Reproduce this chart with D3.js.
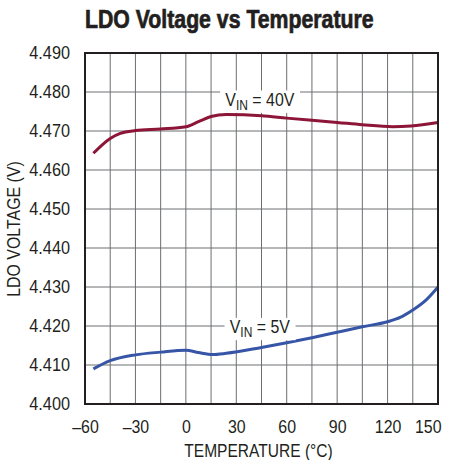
<!DOCTYPE html>
<html><head><meta charset="utf-8">
<script src="https://cdn.jsdelivr.net/npm/d3@7"></script>
<style>
body{margin:0;background:#fff;}
text{font-family:"Liberation Sans Narrow","Arial Narrow","Liberation Sans",sans-serif;fill:#231f20;}
</style></head><body>
<svg id="c" width="451" height="460"></svg>
<script>
const title = "LDO Voltage vs Temperature";
const xLabel = "TEMPERATURE (°C)";
const yLabel = "LDO VOLTAGE (V)";
const xTicks = [-60,-30,0,30,60,90,120,150];
const yTicks = [4.400,4.410,4.420,4.430,4.440,4.450,4.460,4.470,4.480,4.490];
const temps40 = [-55,-45,-39,-30,-15,0,7.5,15,24,45,60,90,105,123,134,150];
const vin40   = [4.4643,4.4681,4.4694,4.4701,4.4705,4.4711,4.4724,4.4737,4.4742,4.4739,4.4733,4.4722,4.4716,4.4711,4.4713,4.4722];
const temps5  = [-55,-45,-30,-15,0,7.5,16,24,45,60,75,90,105,120,127.5,135,143,150];
const vin5    = [4.4090,4.4111,4.4126,4.4133,4.4138,4.4132,4.4127,4.4130,4.4145,4.4157,4.4170,4.4184,4.4198,4.4211,4.4222,4.4241,4.4267,4.4300];
const series = [
  {name:"40V", t:temps40, v:vin40, color:"#8c1538", labelT:44, labelV:4.4783},
  {name:"5V", t:temps5, v:vin5, color:"#3655a6", labelT:44, labelV:4.4200}
];

const svg = d3.select("#c");
const L=85, R=438, T=53, B=404;
const x = d3.scaleLinear().domain([-60,150]).range([L,R]);
const y = d3.scaleLinear().domain([4.400,4.490]).range([B,T]);

function condense(sel, k){
  sel.each(function(){
    const w = this.getComputedTextLength();
    d3.select(this).attr("textLength", w*k).attr("lengthAdjust","spacingAndGlyphs");
  });
}

svg.append("text").attr("x",85).attr("y",28).attr("font-size",25).attr("font-weight","bold")
  .attr("stroke","#231f20").attr("stroke-width",0.7).text(title)
  .call(condense,0.85);

// grid
const g = svg.append("g");
g.selectAll(".vx").data(d3.range(-45,150,15)).enter().append("line")
  .attr("x1",d=>x(d)).attr("x2",d=>x(d)).attr("y1",T).attr("y2",B)
  .attr("stroke","#6d6e71").attr("stroke-width",1);
g.selectAll(".hy").data(yTicks.slice(1,-1)).enter().append("line")
  .attr("y1",d=>y(d)).attr("y2",d=>y(d)).attr("x1",L).attr("x2",R)
  .attr("stroke","#6d6e71").attr("stroke-width",1);

// axes labels
const xa = d3.axisBottom(x).tickValues(xTicks).tickSize(0).tickPadding(16)
  .tickFormat(d=> d<0 ? "\u2013"+Math.abs(d) : d);
const xg = svg.append("g").attr("transform",`translate(0,${B})`).call(xa)
  .call(s=>s.select(".domain").remove());
xg.selectAll("text").attr("font-size",18.5).attr("fill","#231f20").call(condense,0.86);
xg.selectAll("text").filter(d=>d===150).attr("text-anchor","end").attr("x",3);
const ya = d3.axisLeft(y).tickValues(yTicks).tickSize(0).tickPadding(15)
  .tickFormat(d3.format(".3f"));
svg.append("g").attr("transform",`translate(${L},0)`).call(ya)
  .call(s=>s.select(".domain").remove())
  .selectAll("text").attr("font-size",18.5).attr("fill","#231f20").call(condense,0.88);

svg.append("text").attr("x",(L+R)/2-3).attr("y",457).attr("text-anchor","middle").attr("font-size",18.5).text(xLabel)
  .call(condense,0.84);
svg.append("text").attr("transform","translate(20,229) rotate(-90)").attr("text-anchor","middle").attr("font-size",18.5).text(yLabel)
  .call(condense,0.86);

// lines
const line = d3.line().curve(d3.curveMonotoneX);
series.forEach(s=>{
  const pts = s.t.map((t,i)=>[x(t),y(s.v[i])]);
  svg.append("path").attr("d",line(pts)).attr("fill","none").attr("stroke",s.color).attr("stroke-width",3);
});

// labels
series.forEach(s=>{
  const gx = svg.append("g").attr("transform",`translate(${x(s.labelT)},${y(s.labelV)}) scale(0.86,1)`);
  const t = gx.append("text").attr("text-anchor","middle").attr("y",7).attr("font-size",18.5);
  t.append("tspan").text("V");
  t.append("tspan").attr("dy",4).attr("font-size",14).text("IN");
  t.append("tspan").attr("dy",-4).text(" = "+s.name);
  const bb = t.node().getBBox();
  gx.insert("rect","text").attr("x",bb.x-6).attr("y",bb.y+2).attr("width",bb.width+12).attr("height",bb.height-2).attr("fill","#fff");
});

// frame
svg.append("rect").attr("x",L).attr("y",T).attr("width",R-L).attr("height",B-T)
  .attr("fill","none").attr("stroke","#231f20").attr("stroke-width",2);
</script></body></html>
